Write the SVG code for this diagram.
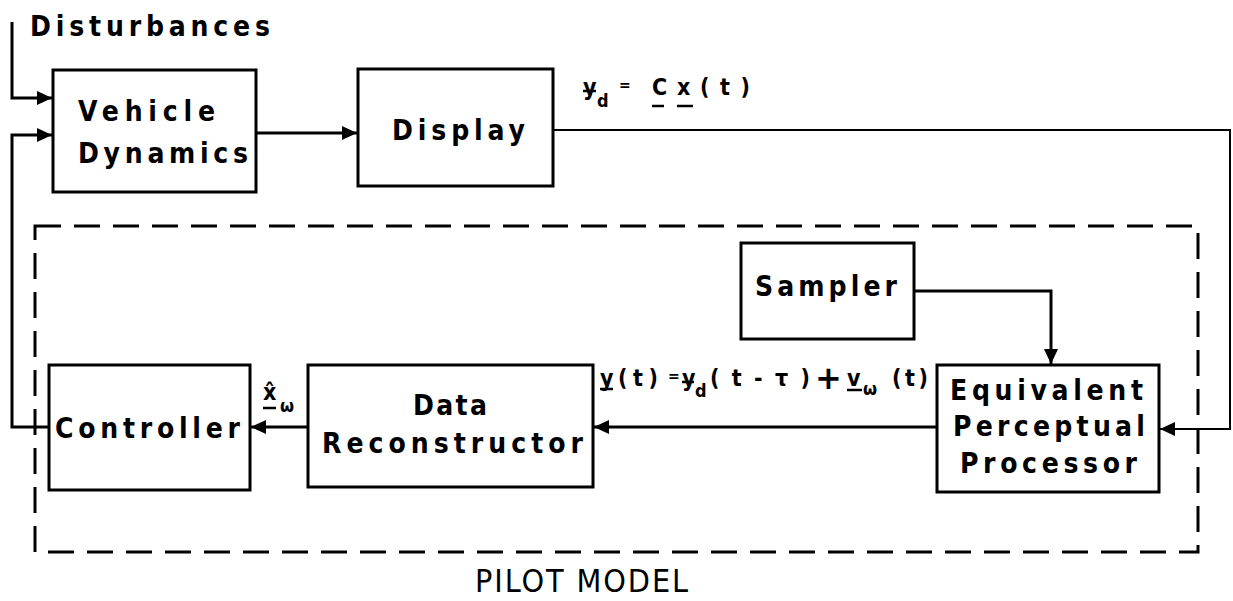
<svg xmlns="http://www.w3.org/2000/svg" width="1233" height="601" viewBox="0 0 1233 601">
  <style>
    .box { fill: #fff; stroke: #000; stroke-width: 3; }
    .lbl { font-family: "DejaVu Sans", "Liberation Sans", sans-serif; font-stretch: condensed; font-weight: bold; font-size: 28px; fill: #000; }
    .math { font-family: "DejaVu Sans", "Liberation Sans", sans-serif; font-stretch: condensed; font-weight: bold; font-size: 23px; fill: #000; }
    .sub { font-family: "DejaVu Sans", "Liberation Sans", sans-serif; font-stretch: condensed; font-weight: bold; font-size: 18px; fill: #000; }
    .eq { font-family: "DejaVu Sans", "Liberation Sans", sans-serif; font-weight: bold; font-size: 14px; fill: #000; }
    .plus { font-family: "DejaVu Sans", "Liberation Sans", sans-serif; font-weight: bold; font-size: 32px; fill: #000; }
    .wire { fill: none; stroke: #000; stroke-width: 3; }
    .thin { fill: none; stroke: #000; stroke-width: 2; }
    .bar { stroke: #000; stroke-width: 2.5; }
    .frame { fill: none; stroke: #000; stroke-width: 3; stroke-dasharray: 26 13; }
  </style>
  <defs>
    <marker id="arrow" markerUnits="userSpaceOnUse" markerWidth="16" markerHeight="14" refX="15" refY="7" orient="auto">
      <path d="M0,0 L15,7 L0,14 z" fill="#000"/>
    </marker>
  </defs>
  <rect width="1233" height="601" fill="#fff"/>

  <!-- pilot model boundary -->
  <g id="pilot-model">
    <rect class="frame" x="35" y="226" width="1163" height="326"/>
    <text x="475" y="592" font-family="DejaVu Sans, Liberation Sans, sans-serif" font-stretch="condensed" font-size="32" textLength="213" lengthAdjust="spacing">PILOT MODEL</text>
  </g>

  <!-- connectors -->
  <g id="connectors">
    <path class="wire" d="M12,22 V98 H52" marker-end="url(#arrow)"/>
    <path class="wire" d="M49,427 H12 V135 H52" marker-end="url(#arrow)"/>
    <path class="wire" d="M256,133 H357" marker-end="url(#arrow)"/>
    <path class="thin" d="M553,130 H1230 V429 H1160" marker-end="url(#arrow)"/>
    <path class="wire" d="M914,291 H1051 V364" marker-end="url(#arrow)"/>
    <path class="wire" d="M937,427 H594" marker-end="url(#arrow)"/>
    <path class="wire" d="M308,427 H251" marker-end="url(#arrow)"/>
  </g>

  <g id="disturbances">
    <text class="lbl" x="30" y="36" textLength="240" lengthAdjust="spacing">Disturbances</text>
  </g>

  <g id="vehicle-dynamics">
    <rect class="box" x="53" y="70" width="203" height="122"/>
    <text class="lbl" x="78" y="121" textLength="137" lengthAdjust="spacing">Vehicle</text>
    <text class="lbl" x="78" y="163" textLength="170" lengthAdjust="spacing">Dynamics</text>
  </g>

  <g id="display">
    <rect class="box" x="358" y="69" width="195" height="117"/>
    <text class="lbl" x="392" y="140" textLength="133" lengthAdjust="spacing">Display</text>
  </g>

  <!-- y_d = Cx(t) -->
  <g id="display-output-label">
    <text class="math" x="583" y="95">y</text>
    <line class="bar" x1="583" y1="91" x2="596" y2="91"/>
    <text class="sub" x="597" y="107">d</text>
    <text class="eq" x="619" y="90">=</text>
    <text class="math" x="652" y="95">C</text>
    <text class="math" x="677" y="95">x</text>
    <text class="math" x="700" y="95" textLength="50" lengthAdjust="spacing">(t)</text>
    <line class="bar" x1="652" y1="106" x2="664" y2="106"/>
    <line class="bar" x1="677" y1="106" x2="693" y2="106"/>
  </g>

  <g id="sampler">
    <rect class="box" x="741" y="243" width="173" height="96"/>
    <text class="lbl" x="755" y="296" textLength="142" lengthAdjust="spacing">Sampler</text>
  </g>

  <g id="equivalent-perceptual-processor">
    <rect class="box" x="937" y="365" width="222" height="127"/>
    <text class="lbl" x="950" y="400" textLength="193" lengthAdjust="spacing">Equivalent</text>
    <text class="lbl" x="953" y="436" textLength="192" lengthAdjust="spacing">Perceptual</text>
    <text class="lbl" x="960" y="473" textLength="177" lengthAdjust="spacing">Processor</text>
  </g>

  <!-- y(t) = y_d(t-τ) + v_ω(t) -->
  <g id="perceived-signal-label">
    <text class="math" x="600" y="386">y</text>
    <line class="bar" x1="600" y1="389" x2="613" y2="389"/>
    <text class="math" x="618" y="386" textLength="40" lengthAdjust="spacing">(t)</text>
    <text class="eq" x="668" y="381">=</text>
    <text class="math" x="682" y="386">y</text>
    <line class="bar" x1="682" y1="382" x2="694" y2="382"/>
    <text class="sub" x="695" y="397">d</text>
    <text class="math" x="710" y="386" textLength="100" lengthAdjust="spacing">(t-τ)</text>
    <text class="plus" x="815" y="389">+</text>
    <text class="math" x="847" y="386">v</text>
    <line class="bar" x1="847" y1="390" x2="862" y2="390"/>
    <text class="sub" x="863" y="395">ω</text>
    <text class="math" x="892" y="386" textLength="36" lengthAdjust="spacing">(t)</text>
  </g>

  <g id="data-reconstructor">
    <rect class="box" x="308" y="365" width="285" height="122"/>
    <text class="lbl" x="413" y="415" textLength="74" lengthAdjust="spacing">Data</text>
    <text class="lbl" x="322" y="453" textLength="261" lengthAdjust="spacing">Reconstructor</text>
  </g>

  <!-- x̂_ω -->
  <g id="estimate-label">
    <text class="math" x="263" y="400">x̂</text>
    <line class="bar" x1="263" y1="408" x2="276" y2="408"/>
    <text class="sub" x="280" y="412">ω</text>
  </g>

  <g id="controller">
    <rect class="box" x="49" y="365" width="201" height="125"/>
    <text class="lbl" x="55" y="438" textLength="185" lengthAdjust="spacing">Controller</text>
  </g>
</svg>
